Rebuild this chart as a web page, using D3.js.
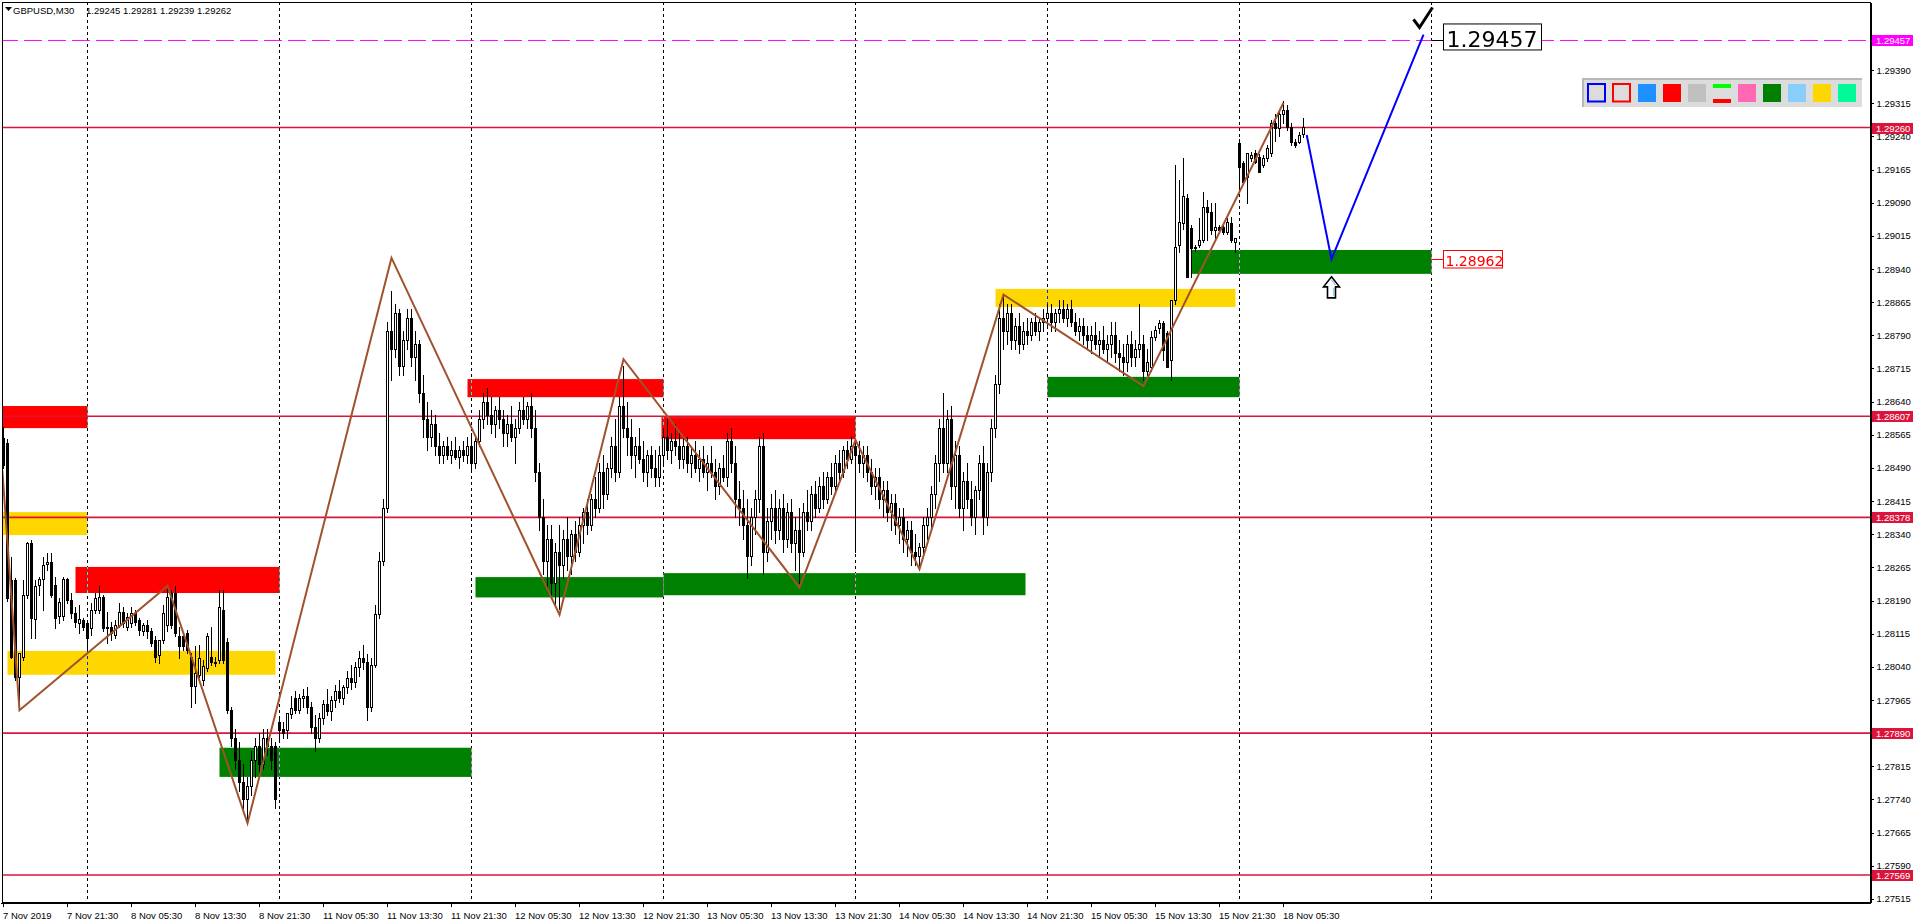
<!DOCTYPE html>
<html><head><meta charset="utf-8">
<script src="https://cdnjs.cloudflare.com/ajax/libs/d3/7.8.5/d3.min.js"></script>
<style>
html,body{margin:0;padding:0;background:#fff;overflow:hidden}
svg{display:block}
text{font-family:"Liberation Sans",Arial,sans-serif}
</style></head><body>
<svg id="c" width="1916" height="923"></svg>
<script>
// ---------------- data ----------------
const symbolTitle = "GBPUSD,M30";
const headerValues = ["1.29245","1.29281","1.29239","1.29262"];
const timeLabels = ["7 Nov 2019","7 Nov 21:30","8 Nov 05:30","8 Nov 13:30","8 Nov 21:30","11 Nov 05:30","11 Nov 13:30","11 Nov 21:30","12 Nov 05:30","12 Nov 13:30","12 Nov 21:30","13 Nov 05:30","13 Nov 13:30","13 Nov 21:30","14 Nov 05:30","14 Nov 13:30","14 Nov 21:30","15 Nov 05:30","15 Nov 13:30","15 Nov 21:30","18 Nov 05:30"];
const timeLabelBars = [0,16,32,48,64,80,96,112,128,144,160,176,192,208,224,240,256,272,288,304,320];
const priceTicks = [1.27515,1.27590,1.27665,1.27740,1.27815,1.27890,1.27965,1.28040,1.28115,1.28190,1.28265,1.28340,1.28415,1.28490,1.28565,1.28640,1.28715,1.28790,1.28865,1.28940,1.29015,1.29090,1.29165,1.29240,1.29315,1.29390];
const separatorBars = [21,69,117,165,213,261,309,357];
const levelPrices = [1.29260,1.28607,1.28378,1.27890,1.27569];
const targetPrice = 1.29457;
const entryPrice = 1.28962;

const opens = [
1.28557,1.28546,1.28237,1.28237,1.28018,1.28063,1.28203,1.28320,1.28148,1.28225,
1.28238,1.28272,1.28278,1.28225,1.28154,1.28154,1.28238,1.28191,1.28161,1.28139,
1.28146,1.28139,1.28127,1.28169,1.28169,1.28199,1.28131,1.28131,1.28112,1.28135,
1.28165,1.28131,1.28139,1.28161,1.28146,1.28120,1.28135,1.28120,1.28101,1.28067,
1.28101,1.28135,1.28207,1.28207,1.28109,1.28109,1.28116,1.28063,1.27996,1.28022,
1.28011,1.28037,1.28063,1.28052,1.28056,1.28169,1.28097,1.27943,1.27880,1.27830,
1.27780,1.27740,1.27770,1.27830,1.27860,1.27820,1.27880,1.27860,1.27860,1.27916,
1.27900,1.27897,1.27933,1.27970,1.27943,1.27970,1.27975,1.27950,1.27905,1.27880,
1.27925,1.27955,1.27940,1.27965,1.27985,1.27970,1.27995,1.28015,1.28005,1.28040,
1.28060,1.28050,1.27950,1.28045,1.28160,1.28280,1.28400,1.28800,1.28760,1.28840,
1.28720,1.28780,1.28830,1.28740,1.28770,1.28660,1.28600,1.28560,1.28590,1.28540,
1.28520,1.28540,1.28520,1.28530,1.28515,1.28530,1.28520,1.28540,1.28500,1.28550,
1.28600,1.28640,1.28610,1.28590,1.28620,1.28600,1.28570,1.28590,1.28560,1.28580,
1.28620,1.28600,1.28630,1.28580,1.28480,1.28380,1.28280,1.28330,1.28230,1.28300,
1.28270,1.28330,1.28290,1.28340,1.28300,1.28360,1.28390,1.28360,1.28420,1.28400,
1.28480,1.28430,1.28490,1.28540,1.28480,1.28630,1.28580,1.28560,1.28520,1.28540,
1.28510,1.28480,1.28520,1.28490,1.28470,1.28520,1.28560,1.28530,1.28550,1.28540,
1.28510,1.28540,1.28500,1.28520,1.28490,1.28510,1.28480,1.28500,1.28480,1.28450,
1.28490,1.28470,1.28550,1.28500,1.28420,1.28400,1.28360,1.28290,1.28380,1.28420,
1.28540,1.28300,1.28370,1.28400,1.28350,1.28400,1.28330,1.28390,1.28320,1.28350,
1.28300,1.28390,1.28370,1.28430,1.28400,1.28450,1.28420,1.28470,1.28450,1.28500,
1.28480,1.28530,1.28510,1.28540,1.28520,1.28500,1.28520,1.28480,1.28450,1.28470,
1.28420,1.28440,1.28390,1.28410,1.28360,1.28380,1.28330,1.28350,1.28300,1.28290,
1.28310,1.28360,1.28380,1.28430,1.28500,1.28580,1.28500,1.28600,1.28450,1.28520,
1.28400,1.28460,1.28420,1.28380,1.28440,1.28500,1.28380,1.28480,1.28580,1.28680,
1.28830,1.28800,1.28840,1.28780,1.28810,1.28770,1.28800,1.28790,1.28820,1.28800,
1.28820,1.28830,1.28840,1.28820,1.28840,1.28850,1.28830,1.28850,1.28820,1.28800,
1.28810,1.28790,1.28780,1.28790,1.28770,1.28780,1.28760,1.28770,1.28790,1.28750,
1.28740,1.28730,1.28770,1.28740,1.28760,1.28770,1.28710,1.28719,1.28787,1.28806,
1.28817,1.28795,1.28734,1.28870,1.28994,1.29044,1.29100,1.29032,1.28987,1.28994,
1.29006,1.29081,1.29070,1.29028,1.29036,1.29036,1.29024,1.29043,1.29002,1.29224,
1.29179,1.29149,1.29190,1.29202,1.29194,1.29175,1.29190,1.29202,1.29270,1.29260,
1.29290,1.29300,1.29262,1.29228,1.29228,1.29245];
const highs = [
1.28583,1.28555,1.28289,1.28240,1.28071,1.28237,1.28323,1.28327,1.28237,1.28244,
1.28289,1.28297,1.28297,1.28244,1.28195,1.28244,1.28240,1.28207,1.28176,1.28180,
1.28150,1.28146,1.28184,1.28207,1.28222,1.28203,1.28165,1.28142,1.28146,1.28184,
1.28176,1.28161,1.28176,1.28169,1.28150,1.28139,1.28146,1.28127,1.28109,1.28101,
1.28180,1.28222,1.28214,1.28222,1.28131,1.28116,1.28124,1.28071,1.28086,1.28090,
1.28056,1.28116,1.28131,1.28063,1.28214,1.28214,1.28105,1.27950,1.27900,1.27870,
1.27820,1.27790,1.27850,1.27880,1.27890,1.27900,1.27900,1.27880,1.27870,1.27925,
1.27915,1.27935,1.27973,1.27985,1.27978,1.27990,1.27995,1.27960,1.27930,1.27935,
1.27965,1.27990,1.27975,1.28000,1.28010,1.28000,1.28030,1.28045,1.28050,1.28075,
1.28090,1.28070,1.28060,1.28180,1.28300,1.28420,1.28820,1.28890,1.28860,1.28850,
1.28800,1.28850,1.28850,1.28800,1.28780,1.28700,1.28640,1.28620,1.28610,1.28570,
1.28550,1.28560,1.28550,1.28560,1.28540,1.28550,1.28560,1.28570,1.28560,1.28620,
1.28660,1.28670,1.28650,1.28630,1.28650,1.28620,1.28610,1.28630,1.28600,1.28640,
1.28650,1.28640,1.28660,1.28620,1.28500,1.28420,1.28360,1.28360,1.28320,1.28360,
1.28350,1.28380,1.28350,1.28370,1.28380,1.28400,1.28420,1.28430,1.28470,1.28500,
1.28520,1.28500,1.28560,1.28600,1.28650,1.28720,1.28640,1.28600,1.28560,1.28580,
1.28550,1.28530,1.28540,1.28530,1.28540,1.28580,1.28600,1.28570,1.28590,1.28570,
1.28560,1.28560,1.28540,1.28550,1.28530,1.28540,1.28520,1.28540,1.28510,1.28500,
1.28520,1.28570,1.28580,1.28540,1.28460,1.28440,1.28420,1.28400,1.28440,1.28560,
1.28570,1.28400,1.28430,1.28440,1.28420,1.28430,1.28410,1.28420,1.28380,1.28400,
1.28410,1.28440,1.28450,1.28460,1.28470,1.28480,1.28480,1.28500,1.28520,1.28530,
1.28540,1.28550,1.28560,1.28555,1.28550,1.28540,1.28540,1.28510,1.28490,1.28490,
1.28460,1.28460,1.28430,1.28430,1.28400,1.28400,1.28370,1.28370,1.28340,1.28320,
1.28380,1.28400,1.28450,1.28520,1.28600,1.28660,1.28620,1.28630,1.28550,1.28540,
1.28480,1.28500,1.28460,1.28450,1.28520,1.28540,1.28500,1.28600,1.28700,1.28860,
1.28880,1.28860,1.28860,1.28830,1.28840,1.28820,1.28830,1.28830,1.28840,1.28830,
1.28850,1.28860,1.28860,1.28850,1.28870,1.28870,1.28860,1.28870,1.28840,1.28830,
1.28830,1.28810,1.28810,1.28820,1.28800,1.28810,1.28790,1.28820,1.28820,1.28780,
1.28770,1.28790,1.28800,1.28780,1.28860,1.28790,1.28760,1.28800,1.28810,1.28825,
1.28822,1.28800,1.28870,1.29175,1.29141,1.29191,1.29110,1.29040,1.28995,1.29055,
1.29115,1.29096,1.29089,1.29089,1.29040,1.29040,1.29055,1.29058,1.29009,1.29235,
1.29185,1.29202,1.29205,1.29210,1.29200,1.29198,1.29220,1.29277,1.29290,1.29300,
1.29320,1.29310,1.29270,1.29235,1.29250,1.29281];
const lows = [
1.28490,1.28190,1.28059,1.28011,1.27943,1.28056,1.28195,1.28105,1.28105,1.28203,
1.28169,1.28260,1.28199,1.28127,1.28139,1.28146,1.28184,1.28150,1.28131,1.28116,
1.28124,1.28080,1.28112,1.28161,1.28161,1.28120,1.28093,1.28101,1.28105,1.28131,
1.28131,1.28124,1.28131,1.28135,1.28112,1.28112,1.28105,1.28086,1.28052,1.28048,
1.28093,1.28120,1.28127,1.28109,1.28059,1.28078,1.28071,1.27950,1.27958,1.28018,
1.28000,1.28030,1.28045,1.28041,1.28048,1.28048,1.27935,1.27860,1.27810,1.27760,
1.27720,1.27686,1.27750,1.27790,1.27800,1.27810,1.27840,1.27810,1.27720,1.27870,
1.27880,1.27880,1.27925,1.27935,1.27935,1.27950,1.27935,1.27890,1.27850,1.27870,
1.27910,1.27930,1.27920,1.27950,1.27960,1.27955,1.27980,1.27990,1.27995,1.28020,
1.28035,1.27920,1.27940,1.28040,1.28150,1.28270,1.28390,1.28690,1.28740,1.28700,
1.28700,1.28760,1.28720,1.28690,1.28640,1.28560,1.28530,1.28540,1.28520,1.28500,
1.28500,1.28510,1.28500,1.28510,1.28490,1.28505,1.28500,1.28480,1.28490,1.28540,
1.28580,1.28590,1.28570,1.28560,1.28580,1.28540,1.28540,1.28550,1.28500,1.28570,
1.28590,1.28580,1.28560,1.28460,1.28350,1.28250,1.28220,1.28200,1.28180,1.28170,
1.28240,1.28260,1.28250,1.28280,1.28290,1.28320,1.28340,1.28350,1.28380,1.28390,
1.28400,1.28420,1.28470,1.28460,1.28470,1.28560,1.28520,1.28490,1.28470,1.28500,
1.28460,1.28450,1.28470,1.28450,1.28450,1.28500,1.28510,1.28500,1.28520,1.28490,
1.28490,1.28480,1.28470,1.28480,1.28460,1.28470,1.28440,1.28470,1.28420,1.28430,
1.28460,1.28450,1.28480,1.28380,1.28360,1.28330,1.28240,1.28270,1.28340,1.28390,
1.28250,1.28280,1.28330,1.28320,1.28330,1.28300,1.28310,1.28300,1.28260,1.28230,
1.28290,1.28350,1.28350,1.28380,1.28390,1.28400,1.28410,1.28430,1.28440,1.28460,
1.28470,1.28490,1.28500,1.28300,1.28480,1.28470,1.28460,1.28430,1.28420,1.28400,
1.28380,1.28370,1.28350,1.28340,1.28320,1.28300,1.28290,1.28270,1.28270,1.28260,
1.28290,1.28330,1.28350,1.28400,1.28460,1.28480,1.28480,1.28420,1.28400,1.28380,
1.28350,1.28400,1.28360,1.28340,1.28420,1.28340,1.28360,1.28460,1.28560,1.28660,
1.28760,1.28770,1.28760,1.28760,1.28750,1.28760,1.28770,1.28780,1.28790,1.28780,
1.28800,1.28810,1.28800,1.28800,1.28820,1.28820,1.28810,1.28810,1.28790,1.28780,
1.28770,1.28760,1.28750,1.28760,1.28740,1.28750,1.28730,1.28740,1.28730,1.28710,
1.28700,1.28710,1.28720,1.28720,1.28740,1.28690,1.28700,1.28710,1.28780,1.28795,
1.28734,1.28719,1.28689,1.28860,1.28979,1.29030,1.28923,1.28923,1.28980,1.28990,
1.29000,1.29006,1.29020,1.29010,1.29025,1.29020,1.29020,1.29002,1.28979,1.29115,
1.29137,1.29089,1.29185,1.29180,1.29160,1.29170,1.29185,1.29195,1.29230,1.29240,
1.29270,1.29255,1.29220,1.29215,1.29225,1.29239];
const closes = [
1.28497,1.28195,1.28063,1.28018,1.28071,1.28203,1.28320,1.28150,1.28223,1.28238,
1.28270,1.28278,1.28203,1.28150,1.28187,1.28238,1.28191,1.28161,1.28142,1.28148,
1.28131,1.28105,1.28169,1.28195,1.28199,1.28127,1.28127,1.28116,1.28135,1.28165,
1.28139,1.28152,1.28161,1.28142,1.28124,1.28135,1.28120,1.28093,1.28063,1.28101,
1.28161,1.28199,1.28135,1.28116,1.28086,1.28086,1.28078,1.27996,1.28026,1.28059,
1.28041,1.28109,1.28052,1.28049,1.28176,1.28056,1.27943,1.27880,1.27830,1.27780,
1.27740,1.27770,1.27830,1.27860,1.27820,1.27880,1.27860,1.27830,1.27740,1.27897,
1.27890,1.27935,1.27947,1.27943,1.27970,1.27975,1.27950,1.27905,1.27880,1.27925,
1.27955,1.27940,1.27965,1.27985,1.27970,1.27995,1.28015,1.28005,1.28040,1.28060,
1.28050,1.27950,1.28045,1.28160,1.28280,1.28400,1.28800,1.28760,1.28840,1.28720,
1.28780,1.28830,1.28740,1.28770,1.28660,1.28600,1.28560,1.28590,1.28540,1.28520,
1.28540,1.28520,1.28530,1.28515,1.28530,1.28520,1.28540,1.28500,1.28550,1.28600,
1.28640,1.28610,1.28590,1.28620,1.28600,1.28570,1.28590,1.28560,1.28580,1.28620,
1.28600,1.28630,1.28580,1.28480,1.28380,1.28280,1.28330,1.28230,1.28300,1.28270,
1.28330,1.28290,1.28340,1.28300,1.28360,1.28390,1.28360,1.28420,1.28400,1.28480,
1.28430,1.28490,1.28540,1.28480,1.28630,1.28580,1.28560,1.28520,1.28540,1.28510,
1.28480,1.28520,1.28490,1.28470,1.28520,1.28560,1.28530,1.28550,1.28540,1.28510,
1.28540,1.28500,1.28520,1.28490,1.28510,1.28480,1.28500,1.28480,1.28450,1.28490,
1.28470,1.28550,1.28500,1.28420,1.28400,1.28360,1.28290,1.28380,1.28420,1.28540,
1.28300,1.28370,1.28400,1.28350,1.28400,1.28330,1.28390,1.28320,1.28350,1.28300,
1.28390,1.28370,1.28430,1.28400,1.28450,1.28420,1.28470,1.28450,1.28500,1.28480,
1.28530,1.28510,1.28540,1.28520,1.28500,1.28520,1.28480,1.28450,1.28470,1.28420,
1.28440,1.28390,1.28410,1.28360,1.28380,1.28330,1.28350,1.28300,1.28290,1.28310,
1.28360,1.28380,1.28430,1.28500,1.28580,1.28500,1.28600,1.28450,1.28520,1.28400,
1.28460,1.28420,1.28380,1.28440,1.28500,1.28380,1.28480,1.28580,1.28680,1.28830,
1.28800,1.28840,1.28780,1.28810,1.28770,1.28800,1.28790,1.28820,1.28800,1.28820,
1.28830,1.28840,1.28820,1.28840,1.28850,1.28830,1.28850,1.28820,1.28800,1.28810,
1.28790,1.28780,1.28790,1.28770,1.28780,1.28760,1.28770,1.28790,1.28750,1.28740,
1.28730,1.28770,1.28740,1.28760,1.28770,1.28710,1.28730,1.28787,1.28802,1.28817,
1.28757,1.28719,1.28870,1.28990,1.29047,1.29104,1.28923,1.28987,1.28990,1.29006,
1.29081,1.29070,1.29028,1.29036,1.29028,1.29024,1.29047,1.29006,1.29009,1.29171,
1.29137,1.29202,1.29198,1.29183,1.29160,1.29190,1.29213,1.29270,1.29260,1.29290,
1.29300,1.29262,1.29228,1.29221,1.29243,1.29262];

// zones (bar index from / to, price high / low, kind)
const zoneFrom  = [-2,   -2,   18,   1,    54,   116,  118,  164.5, 165,  248,  261,  297];
const zoneTo    = [21,   21,   69,   68,   117,  165,  165,  213,   255.5,308,  309,  357];
const zoneHigh  = [1.28630,1.28390,1.28266,1.28076,1.27857,1.28691,1.28243,1.28605,1.28252,1.28895,1.28696,1.28983];
const zoneLow   = [1.28580,1.28338,1.28207,1.28022,1.27791,1.28650,1.28197,1.28555,1.28202,1.28854,1.28650,1.28929];
const zoneKind  = ["supply","pivot","supply","pivot","demand","supply","demand","supply","demand","pivot","demand","demand"];

// zigzag pivots
const zigzagBars   = [-0.3, 4, 41, 61, 97, 139, 155, 199, 213, 229, 250, 285, 320];
const zigzagPrices = [1.28485,1.27942,1.28223,1.27686,1.28965,1.28158,1.28736,1.28219,1.28553,1.28261,1.28882,1.28675,1.29316];

// projected path
const projBars   = [325.8, 332, 355];
const projPrices = [1.29243, 1.28962, 1.29470];

// toolbar swatches
const toolItems = ["boxBlue","boxRed","#1E90FF","#FF0000","#C0C0C0","lines","#FF69B4","#008000","#87CEFA","#FFD700","#00FA9A"];

// ---------------- drawing ----------------
const W = 1916, H = 923;
const plotR = 1870, plotB = 902;
const svg = d3.select("#c");
svg.append("rect").attr("width",W).attr("height",H).attr("fill","#fff");

const x = d3.scaleLinear().domain([-0.875, 466.625]).range([0, plotR]);
const y = d3.scaleLinear().domain([1.27508, 1.29544]).range([plotB, 2]);
const zoneColor = {supply:"#FF0000", pivot:"#FFD700", demand:"#008000"};

svg.append("clipPath").attr("id","clip").append("rect")
  .attr("x",2.5).attr("y",2.5).attr("width",plotR-2.5).attr("height",plotB-2.5);
const plot = svg.append("g").attr("clip-path","url(#clip)");
plot.append("rect").attr("x",0).attr("y",0).attr("width",plotR).attr("height",plotB).attr("fill","#fff");

// zones
plot.append("g").selectAll("rect").data(zoneFrom).join("rect")
  .attr("x",(d,i)=>x(zoneFrom[i]))
  .attr("width",(d,i)=>x(zoneTo[i])-x(zoneFrom[i]))
  .attr("y",(d,i)=>y(zoneHigh[i]))
  .attr("height",(d,i)=>y(zoneLow[i])-y(zoneHigh[i]))
  .attr("fill",(d,i)=>zoneColor[zoneKind[i]]);

// period separators (xor-like)
plot.append("g").selectAll("line").data(separatorBars).join("line")
  .style("mix-blend-mode","difference")
  .attr("x1",d=>Math.floor(x(d))+0.5).attr("x2",d=>Math.floor(x(d))+0.5)
  .attr("y1",2).attr("y2",plotB)
  .attr("stroke","#fff").attr("stroke-width",1).attr("stroke-dasharray","3,3");

// horizontal levels
plot.append("g").selectAll("line").data(levelPrices).join("line")
  .attr("x1",0).attr("x2",plotR)
  .attr("y1",d=>y(d)).attr("y2",d=>y(d))
  .attr("stroke","#DC143C").attr("stroke-width",1.6);
plot.append("line").attr("x1",0).attr("x2",plotR)
  .attr("y1",y(targetPrice)).attr("y2",y(targetPrice))
  .attr("stroke","#FF00FF").attr("stroke-width",1).attr("stroke-dasharray","18,6");

// candles
const cg = plot.append("g").attr("shape-rendering","crispEdges");
const idx = d3.range(opens.length);
const py = v => Math.round(y(v));
cg.selectAll("line.w").data(idx).join("line").attr("class","w")
  .attr("x1",i=>Math.floor(x(i))+0.5).attr("x2",i=>Math.floor(x(i))+0.5)
  .attr("y1",i=>py(Math.max(highs[i],opens[i],closes[i]))).attr("y2",i=>py(Math.min(lows[i],opens[i],closes[i]))+1)
  .attr("stroke","#000").attr("stroke-width",1);
cg.selectAll("rect.b").data(idx).join("rect").attr("class","b")
  .each(function(i){
    const s = d3.select(this);
    const xc = Math.floor(x(i));
    const top = py(Math.max(opens[i],closes[i])), bot = py(Math.min(opens[i],closes[i]));
    if (closes[i] >= opens[i]) {
      s.attr("x",xc-0.5).attr("width",2).attr("y",top+0.5).attr("height",Math.max(0,bot-top))
       .attr("fill","#fff").attr("stroke","#000").attr("stroke-width",1);
    } else {
      s.attr("x",xc-1).attr("width",3).attr("y",top).attr("height",Math.max(1,bot-top+1))
       .attr("fill","#000");
    }
  });

// zigzag
plot.append("path")
  .datum(zigzagBars.map((b,i)=>[b,zigzagPrices[i]]))
  .attr("d",d3.line().x(d=>x(d[0])).y(d=>y(d[1])))
  .attr("fill","none").attr("stroke","#A0522D").attr("stroke-width",2);

// projection
plot.append("path")
  .datum(projBars.map((b,i)=>[b,projPrices[i]]))
  .attr("d",d3.line().x(d=>x(d[0])).y(d=>y(d[1])))
  .attr("fill","none").attr("stroke","#0000FF").attr("stroke-width",2);

// text labels anchored at the next separator
const anchorX = Math.floor(x(separatorBars[separatorBars.length-1]))+0.5;
plot.append("line").attr("x1",anchorX).attr("x2",anchorX+12).attr("y1",Math.round(y(targetPrice))+0.5).attr("y2",Math.round(y(targetPrice))+0.5)
  .attr("stroke","#000");
plot.append("rect").attr("x",anchorX+12).attr("y",y(targetPrice)-16.5).attr("width",98).attr("height",26)
  .attr("fill","#fff").attr("stroke","#000").attr("stroke-width",1);
plot.append("text").attr("x",anchorX+15).attr("y",y(targetPrice)+7)
  .style("font-family","'DejaVu Sans',sans-serif").style("font-size","22px").attr("fill","#000")
  .text(d3.format(".5f")(targetPrice));
const ey = Math.round(y(entryPrice))+0.5;
plot.append("line").attr("x1",anchorX).attr("x2",anchorX+12).attr("y1",ey).attr("y2",ey).attr("stroke","#FF0000");
plot.append("rect").attr("x",anchorX+12).attr("y",ey-9).attr("width",59).attr("height",17.5)
  .attr("fill","#fff").attr("stroke","#FF0000").attr("stroke-width",1);
plot.append("text").attr("x",anchorX+14).attr("y",ey+6)
  .style("font-family","'DejaVu Sans',sans-serif").style("font-size","14px").attr("fill","#FF0000")
  .text(d3.format(".5f")(entryPrice));

// check mark above projection end
const ckx = x(projBars[2]), cky = y(targetPrice);
plot.append("path")
  .attr("d",`M${ckx-10},${cky-21} L${ckx-4},${cky-13} L${ckx+9},${cky-33}`)
  .attr("fill","none").attr("stroke","#000").attr("stroke-width",3).attr("stroke-linejoin","miter");

// up arrow under entry point
const ax = x(projBars[1]), ayTop = y(zoneLow[zoneLow.length-1]) + 3;
plot.append("path")
  .attr("d",`M${ax},${ayTop} L${ax+8},${ayTop+10} L${ax+4},${ayTop+10} L${ax+4},${ayTop+21} L${ax-4},${ayTop+21} L${ax-4},${ayTop+10} L${ax-8},${ayTop+10} Z`)
  .attr("fill","#fff").attr("stroke","#000").attr("stroke-width",1.6).attr("stroke-linejoin","miter");
plot.append("path")
  .attr("d",`M${ax},${ayTop+3} L${ax+4},${ayTop+8} M${ax+2},${ayTop+11} L${ax+2},${ayTop+19}`)
  .attr("fill","none").attr("stroke","#87CEFA").attr("stroke-width",1.2);

// frame
svg.append("rect").attr("x",2.5).attr("y",2.5).attr("width",plotR-2).attr("height",plotB-2.5)
  .attr("fill","none").attr("stroke","#000").attr("stroke-width",1).attr("shape-rendering","crispEdges");

// axes
const yAxis = d3.axisRight(y).tickValues(priceTicks).tickFormat(d3.format(".5f")).tickSize(3).tickPadding(3).tickSizeOuter(0);
const gy = svg.append("g").attr("transform",`translate(${plotR+0.5},0)`).call(yAxis);
const xAxis = d3.axisBottom(x).tickValues(timeLabelBars).tickFormat((d,i)=>timeLabels[i]).tickSize(4).tickPadding(6).tickSizeOuter(0);
const gx = svg.append("g").attr("transform",`translate(0,${plotB+0.5})`).call(xAxis);
[gy,gx].forEach(g=>{
  g.select(".domain").attr("stroke","#000");
  g.selectAll(".tick line").attr("stroke","#000");
  g.selectAll(".tick text").attr("fill","#000").style("font-family","'Liberation Sans',Arial,sans-serif").style("font-size","9.5px");
  g.attr("shape-rendering","crispEdges");
});
gx.selectAll(".tick text").attr("text-anchor","start").attr("x",-1);
gx.selectAll(".tick line").attr("transform","translate(-1,0)");

// price labels on the axis
const tags = levelPrices.map(p=>({p, c:"#DC143C"})).concat([{p:targetPrice, c:"#FF00FF"}]);
const tg = svg.append("g");
tg.selectAll("rect").data(tags).join("rect")
  .attr("x",plotR+2).attr("width",41).attr("y",d=>Math.round(y(d.p))-5).attr("height",11)
  .attr("fill",d=>d.c);
tg.selectAll("text").data(tags).join("text")
  .attr("x",plotR+6).attr("y",d=>Math.round(y(d.p))+0.5).attr("dy","0.34em")
  .attr("fill","#fff").style("font-size","9.5px")
  .text(d=>d3.format(".5f")(d.p));

// header
svg.append("path").attr("d","M5,7 L12,7 L8.5,11 Z").attr("fill","#000");
svg.append("text").attr("x",13).attr("y",14).style("font-size","9.5px").attr("fill","#000").text(symbolTitle);
svg.append("text").attr("x",86).attr("y",14).style("font-size","9.5px").attr("fill","#000").text(headerValues.join(" "));

// toolbar
const tb = svg.append("g");
tb.append("rect").attr("x",1582).attr("y",78).attr("width",280).attr("height",29).attr("fill","#DCDCDC");
tb.append("path").attr("d","M1583,107 L1583,79 L1862,79").attr("fill","none").attr("stroke","#B8B8B8").attr("stroke-width",2);
toolItems.forEach((t,i)=>{
  const x0 = 1587 + i*25, s = 18;
  if (t==="boxBlue" || t==="boxRed") {
    tb.append("rect").attr("x",x0+1).attr("y",84).attr("width",s-1).attr("height",s-0.5)
      .attr("fill","#DCDCDC").attr("stroke",t==="boxBlue"?"#0000FF":"#FF0000").attr("stroke-width",2);
  } else if (t==="lines") {
    tb.append("rect").attr("x",x0+1).attr("y",84).attr("width",s).attr("height",4).attr("fill","#00FF00");
    tb.append("rect").attr("x",x0+1).attr("y",99).attr("width",s).attr("height",4).attr("fill","#FF0000");
  } else {
    tb.append("rect").attr("x",x0+1).attr("y",84).attr("width",s).attr("height",s).attr("fill",t);
  }
});
</script>
</body></html>
